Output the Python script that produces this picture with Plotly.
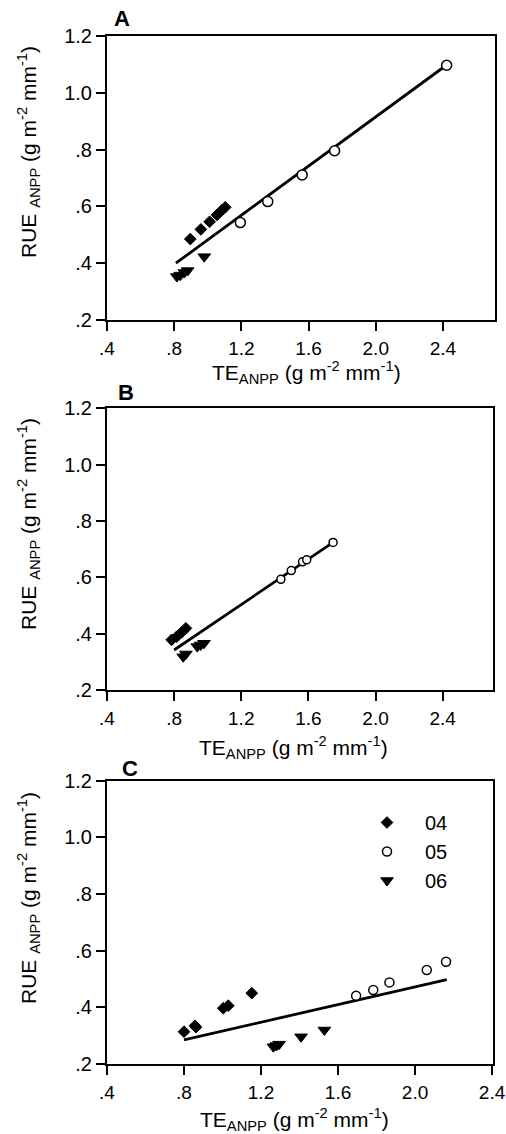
import plotly.graph_objects as go

# ---------------- data ----------------
x_tickvals = [0.4, 0.8, 1.2, 1.6, 2.0, 2.4]
x_ticktext = [".4", ".8", "1.2", "1.6", "2.0", "2.4"]
y_tickvals = [0.2, 0.4, 0.6, 0.8, 1.0, 1.2]
y_ticktext = [".2", ".4", ".6", ".8", "1.0", "1.2"]
series_names = ["04", "05", "06"]
panel_labels = ["A", "B", "C"]
x_title = "TE<sub>ANPP</sub> (g m<sup>-2</sup> mm<sup>-1</sup>)"
y_title = "RUE <sub>ANPP</sub> (g m<sup>-2</sup> mm<sup>-1</sup>)"

# Panel A
a_04_x = [0.896, 0.959, 1.011, 1.055, 1.085, 1.104]
a_04_y = [0.485, 0.519, 0.546, 0.570, 0.587, 0.597]
a_05_x = [1.194, 1.357, 1.562, 1.755, 2.422]
a_05_y = [0.543, 0.617, 0.711, 0.796, 1.097]
a_06_x = [0.816, 0.836, 0.860, 0.880, 0.979]
a_06_y = [0.353, 0.358, 0.367, 0.374, 0.423]
a_fit_x = [0.81, 2.42]
a_fit_y = [0.400, 1.097]

# Panel B
b_04_x = [0.785, 0.815, 0.845, 0.870]
b_04_y = [0.378, 0.389, 0.405, 0.419]
b_05_x = [1.436, 1.498, 1.565, 1.590, 1.747]
b_05_y = [0.593, 0.624, 0.655, 0.662, 0.724]
b_06_x = [0.854, 0.870, 0.938, 0.958, 0.978]
b_06_y = [0.318, 0.328, 0.354, 0.360, 0.366]
b_fit_x = [0.80, 1.747]
b_fit_y = [0.342, 0.724]

# Panel C
c_04_x = [0.800, 0.857, 0.862, 1.004, 1.030, 1.152]
c_04_y = [0.314, 0.335, 0.330, 0.397, 0.406, 0.450]
c_05_x = [1.694, 1.783, 1.867, 2.061, 2.161]
c_05_y = [0.441, 0.461, 0.488, 0.532, 0.561]
c_06_x = [1.264, 1.280, 1.294, 1.408, 1.529]
c_06_y = [0.261, 0.265, 0.270, 0.296, 0.320]
c_fit_x = [0.80, 2.165]
c_fit_y = [0.285, 0.498]

# ---------------- figure ----------------
FONT = "Arial, Liberation Sans, sans-serif"
fig = go.Figure()

panels = [
    ("x", "y", a_04_x, a_04_y, a_05_x, a_05_y, a_06_x, a_06_y, a_fit_x, a_fit_y, 10, False),
    ("x2", "y2", b_04_x, b_04_y, b_05_x, b_05_y, b_06_x, b_06_y, b_fit_x, b_fit_y, 8, False),
    ("x3", "y3", c_04_x, c_04_y, c_05_x, c_05_y, c_06_x, c_06_y, c_fit_x, c_fit_y, 9, True),
]

for (xa, ya, x4, y4, x5, y5, x6, y6, fx, fy, csize, show) in panels:
    fig.add_trace(go.Scatter(x=fx, y=fy, mode="lines", xaxis=xa, yaxis=ya,
                             line=dict(color="black", width=2.8), showlegend=False,
                             hoverinfo="skip"))
    fig.add_trace(go.Scatter(x=x4, y=y4, mode="markers", xaxis=xa, yaxis=ya,
                             name=series_names[0], showlegend=show,
                             marker=dict(symbol="diamond", size=9, color="black",
                                         line=dict(color="black", width=1))))
    fig.add_trace(go.Scatter(x=x5, y=y5, mode="markers", xaxis=xa, yaxis=ya,
                             name=series_names[1], showlegend=show,
                             marker=dict(symbol="circle", size=csize, color="white",
                                         line=dict(color="black", width=1.5))))
    fig.add_trace(go.Scatter(x=x6, y=y6, mode="markers", xaxis=xa, yaxis=ya,
                             name=series_names[2], showlegend=show,
                             marker=dict(symbol="triangle-down", size=11, color="black",
                                         line=dict(color="black", width=1))))

L, R, T, B = 107, 11, 36, 70
W, H = 506, 1134
PLOT_W = W - L - R
PLOT_H = H - T - B

def px_x(px):
    return (px - L) / PLOT_W

def px_y(py):
    return (H - B - py) / PLOT_H

common_x = dict(tickvals=x_tickvals, ticktext=x_ticktext, showline=True, mirror=True,
                linecolor="black", linewidth=2, ticks="outside", ticklen=9,
                tickcolor="black", tickwidth=2, showgrid=False, zeroline=False,
                automargin=False, ticklabelstandoff=1,
                tickfont=dict(family=FONT, size=19, color="black"))
common_y = dict(tickvals=y_tickvals, ticktext=y_ticktext, range=[0.2, 1.2],
                ticksuffix="\u00a0\u00a0",
                showline=True, mirror=True, linecolor="black", linewidth=2,
                ticks="outside", ticklen=9, tickcolor="black", tickwidth=2,
                showgrid=False, zeroline=False, automargin=False,
                tickfont=dict(family=FONT, size=20, color="black"))

fig.update_layout(
    width=W, height=H,
    margin=dict(l=L, r=R, t=T, b=B),
    paper_bgcolor="white", plot_bgcolor="white",
    font=dict(family=FONT, color="black"),
    xaxis=dict(common_x, domain=[0, 1], range=[0.4, 2.71], anchor="y"),
    yaxis=dict(common_y, domain=[px_y(320), px_y(36)], anchor="x"),
    xaxis2=dict(common_x, domain=[0, px_x(493)], range=[0.4, 2.7], anchor="y2"),
    yaxis2=dict(common_y, domain=[px_y(690), px_y(408.3)], anchor="x2"),
    xaxis3=dict(common_x, domain=[0, px_x(493)], range=[0.4, 2.405], anchor="y3"),
    yaxis3=dict(common_y, domain=[px_y(1064), px_y(780.7)], anchor="x3"),
    legend=dict(x=px_x(349), y=px_y(803), xanchor="left", yanchor="top",
                bgcolor="rgba(0,0,0,0)", borderwidth=0,
                font=dict(family=FONT, size=20, color="black"),
                itemwidth=66, tracegroupgap=0),
)

label_pos = [(122, 18), (126, 392), (130, 768)]
for lab, (px, py) in zip(panel_labels, label_pos):
    fig.add_annotation(text="<b>%s</b>" % lab, xref="paper", yref="paper",
                       x=px_x(px), y=px_y(py),
                       xanchor="center", yanchor="middle", showarrow=False,
                       font=dict(family=FONT, size=22, color="black"))

xtitle_pos = [(306, 373), (293, 747), (294, 1119)]
for (px, py) in xtitle_pos:
    fig.add_annotation(text=x_title, xref="paper", yref="paper",
                       x=px_x(px), y=px_y(py), xanchor="center", yanchor="middle",
                       showarrow=False, font=dict(family=FONT, size=21, color="black"))

ytitle_pos = [(28, 152), (28, 524), (28, 898)]
for (px, py) in ytitle_pos:
    fig.add_annotation(text=y_title, xref="paper", yref="paper", textangle=-90,
                       x=px_x(px), y=px_y(py), xanchor="center", yanchor="middle",
                       showarrow=False, font=dict(family=FONT, size=21, color="black"))

# remove the browser's default 8px page margin so the figure sits at the window origin
fig.write_html("out.html", config={"displayModeBar": False},
               post_script="document.body.style.margin='0';")
